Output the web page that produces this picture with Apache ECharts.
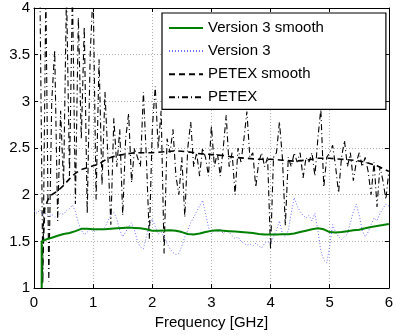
<!DOCTYPE html>
<html><head><meta charset="utf-8">
<script src="https://cdn.jsdelivr.net/npm/echarts@6/dist/echarts.min.js"></script>
<style>html,body{margin:0;padding:0;background:#fff}#c{width:396px;height:335px}</style>
</head><body><div id="c"></div>
<script>
// Tick labels
const xTicks = [0, 1, 2, 3, 4, 5, 6];
const yTicks = [1, 1.5, 2, 2.5, 3, 3.5, 4];

// Version 3 smooth (green)
const v3SmoothX = [0.13,0.13,0.2,0.3,0.4,0.5,0.6,0.7,0.8,0.9,1.0,1.1,1.2,1.3,1.4,1.5,1.6,1.7,1.8,1.9,2.0,2.1,2.2,2.3,2.4,2.5,2.6,2.7,2.8,2.9,3.0,3.1,3.2,3.3,3.4,3.5,3.6,3.7,3.8,3.9,4.0,4.1,4.2,4.3,4.4,4.5,4.6,4.7,4.8,4.9,5.0,5.1,5.2,5.3,5.4,5.5,5.6,5.7,5.8,5.9,6.0];
const v3SmoothY = [1.0,1.5,1.52,1.54,1.56,1.58,1.59,1.61,1.635,1.635,1.63,1.63,1.63,1.635,1.64,1.645,1.648,1.645,1.64,1.63,1.615,1.615,1.618,1.62,1.615,1.60,1.58,1.575,1.585,1.60,1.613,1.62,1.615,1.61,1.605,1.60,1.595,1.59,1.58,1.575,1.574,1.575,1.578,1.576,1.585,1.60,1.615,1.63,1.64,1.63,1.60,1.595,1.60,1.61,1.62,1.626,1.64,1.655,1.665,1.675,1.687];

// Version 3 (blue dotted), sampled every 0.05 GHz from 0
const v3Start = 0.0, v3Step = 0.05;
const v3Y = [1.83,1.80,1.84,1.78,1.80,1.77,1.79,1.76,1.78,1.80,1.79,1.83,1.85,1.89,1.82,1.70,1.62,1.57,1.60,1.63,1.60,1.62,1.63,1.62,1.65,1.72,1.78,1.81,1.74,1.62,1.55,1.60,1.66,1.70,1.62,1.50,1.44,1.42,1.55,1.68,1.74,1.66,1.58,1.60,1.55,1.48,1.42,1.38,1.36,1.37,1.45,1.55,1.62,1.70,1.76,1.82,1.88,1.94,1.80,1.65,1.58,1.62,1.60,1.64,1.58,1.62,1.60,1.56,1.53,1.55,1.50,1.48,1.46,1.47,1.45,1.48,1.45,1.43,1.48,1.50,1.47,1.55,1.62,1.72,1.58,1.55,1.62,1.80,1.97,1.88,1.82,1.78,1.75,1.78,1.72,1.80,1.62,1.40,1.30,1.27,1.45,1.68,1.60,1.55,1.52,1.55,1.58,1.70,1.82,1.90,1.78,1.62,1.55,1.60,1.68,1.75,1.72,1.80,1.85,1.90,1.88];

// PETEX smooth (black dashed)
const pxSmoothX = [0.13,0.18,0.25,0.3,0.4,0.5,0.6,0.7,0.8,0.9,1.0,1.1,1.2,1.3,1.4,1.5,1.6,1.7,1.8,1.9,2.0,2.2,2.4,2.6,2.8,3.0,3.2,3.4,3.6,3.8,4.0,4.2,4.4,4.6,4.8,5.0,5.2,5.4,5.6,5.8,5.9,6.0];
const pxSmoothY = [1.05,1.85,1.97,2.0,2.04,2.1,2.17,2.23,2.27,2.29,2.31,2.33,2.37,2.40,2.42,2.43,2.44,2.45,2.45,2.45,2.45,2.46,2.47,2.46,2.44,2.43,2.42,2.40,2.39,2.38,2.38,2.37,2.36,2.37,2.39,2.39,2.38,2.37,2.35,2.31,2.28,2.25];

// PETEX (black dash-dot), sampled every 0.05 GHz from 0.10
const pxStart = 0.10, pxStep = 0.05;
const pxY = [4.2,1.05,4.2,1.07,3.0,3.55,1.72,2.9,2.1,4.2,2.2,4.2,1.9,3.9,2.6,3.8,1.8,3.5,4.2,1.95,3.45,2.1,3.1,2.4,1.68,2.82,2.3,2.7,1.78,2.6,2.87,2.13,2.5,2.4,2.3,3.1,2.4,1.53,2.7,3.16,2.5,2.9,1.37,2.6,2.45,2.7,2.2,2.0,2.4,1.76,2.5,2.78,2.3,2.45,2.2,2.5,2.4,2.2,2.74,2.3,2.45,2.2,2.5,2.85,2.3,2.45,2.0,2.5,2.35,2.6,2.89,2.4,2.45,2.08,2.35,2.45,2.3,2.4,1.41,2.4,2.45,2.78,2.4,1.67,2.4,2.3,2.45,2.35,2.45,2.18,2.4,2.35,2.45,2.2,2.6,2.92,2.08,2.4,2.45,2.53,2.3,2.02,2.4,2.58,2.3,2.45,2.15,2.35,2.45,2.3,2.4,2.25,2.0,2.35,1.87,2.3,2.15,1.95,2.25];

const legendNames = ['Version 3 smooth', 'Version 3', 'PETEX smooth', 'PETEX'];

function pairs(xs, ys) { return ys.map((y, i) => [xs[i], y]); }
function stepPairs(start, step, ys) { return ys.map((y, i) => [+(start + i * step).toFixed(3), y]); }

const font = 'Liberation Sans, Arial, Helvetica, sans-serif';
const chart = echarts.init(document.getElementById('c'), null, {renderer: 'canvas'});
const axisCommon = {
  axisLine: {show: true, onZero: false, lineStyle: {color: '#000', width: 1}},
  axisTick: {show: true, inside: true, length: 4, lineStyle: {color: '#000'}},
  splitLine: {show: false}
};
chart.setOption({
  animation: false,
  backgroundColor: '#fff',
  grid: {left: 34, right: 3, top: 8, bottom: 43},
  legend: {
    data: legendNames,
    orient: 'vertical',
    left: 162, top: 13,
    itemWidth: 34, itemHeight: 15, itemGap: 8.1,
    padding: [7.5, 62, 4.5, 6],
    backgroundColor: '#fff',
    borderColor: '#000', borderWidth: 1.2, borderRadius: 0,
    itemStyle: {opacity: 0},
    textStyle: {fontFamily: font, fontSize: 15, color: '#000'}
  },
  xAxis: [
    Object.assign({}, axisCommon, {
      type: 'value', min: 0, max: 6, interval: 1, position: 'bottom',
      name: 'Frequency [GHz]', nameLocation: 'middle', nameGap: 22,
      nameTextStyle: {fontFamily: font, fontSize: 15, color: '#000'},
      axisLabel: {fontFamily: font, fontSize: 15, color: '#000', margin: 7, formatter: v => xTicks.includes(v) ? String(v) : ''},
      splitLine: {show: true, lineStyle: {color: '#b0b0b0', type: [1, 2], width: 1}}
    }),
    Object.assign({}, axisCommon, {
      type: 'value', min: 0, max: 6, interval: 1, position: 'top',
      axisLabel: {show: false}
    })
  ],
  yAxis: [
    Object.assign({}, axisCommon, {
      type: 'value', min: 1, max: 4, interval: 0.5, position: 'left',
      axisLabel: {fontFamily: font, fontSize: 15, color: '#000', margin: 4, formatter: v => yTicks.includes(v) ? String(v) : ''},
      splitLine: {show: true, lineStyle: {color: '#b0b0b0', type: [1, 2], width: 1}}
    }),
    Object.assign({}, axisCommon, {
      type: 'value', min: 1, max: 4, interval: 0.5, position: 'right',
      axisLabel: {show: false}
    })
  ],
  series: [
    {name: 'Version 3 smooth', type: 'line', data: pairs(v3SmoothX, v3SmoothY), showSymbol: false, symbol: 'none', clip: true, z: 5,
     lineStyle: {color: '#008000', width: 2}, itemStyle: {color: '#008000'}},
    {name: 'Version 3', type: 'line', data: stepPairs(v3Start, v3Step, v3Y), showSymbol: false, symbol: 'none', clip: true, z: 2,
     lineStyle: {color: '#7070ff', width: 1, type: [1, 2]}, itemStyle: {color: '#7070ff'}},
    {name: 'PETEX smooth', type: 'line', data: pairs(pxSmoothX, pxSmoothY), showSymbol: false, symbol: 'none', clip: true, z: 4,
     lineStyle: {color: '#000', width: 1.6, type: [6, 4]}, itemStyle: {color: '#000'}},
    {name: 'PETEX', type: 'line', data: stepPairs(pxStart, pxStep, pxY), showSymbol: false, symbol: 'none', clip: true, z: 3,
     lineStyle: {color: '#000', width: 1.1, type: [6, 3, 1, 3]}, itemStyle: {color: '#000'}}
  ]
});
</script></body></html>
